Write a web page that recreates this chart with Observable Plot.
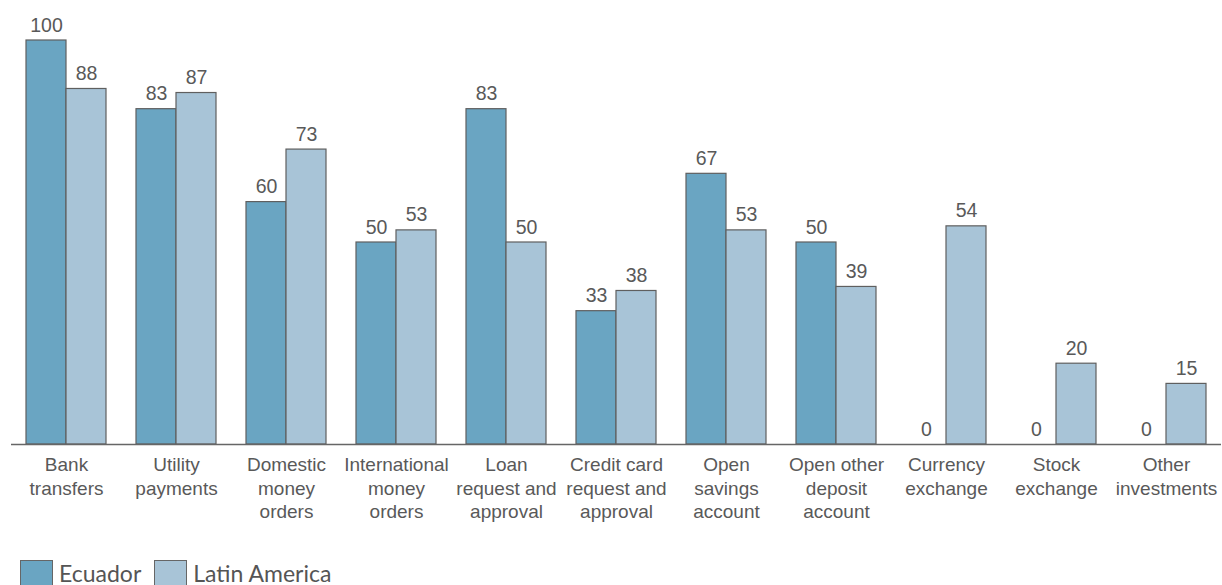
<!DOCTYPE html>
<html>
<head>
<meta charset="utf-8">
<script src="https://cdn.jsdelivr.net/npm/d3@7"></script>
<script src="https://cdn.jsdelivr.net/npm/@observablehq/plot@0.6"></script>
<style>
  body { margin: 0; background: #fff; overflow: hidden; }
  #legend { display: flex; align-items: center; margin-left: 20px; margin-top: 20px; font-family: Lato, sans-serif; font-size: 23px; color: #555; }
  .sw { width: 31px; height: 25px; border: 1px solid #666; margin-right: 6px; }
  .item { display: flex; align-items: center; margin-right: 13px; line-height: 27px; }
</style>
</head>
<body>
<div id="chart"></div>
<div id="legend"></div>
<script>
const categories = ["Bank\ntransfers", "Utility\npayments", "Domestic\nmoney\norders", "International\nmoney\norders", "Loan\nrequest and\napproval", "Credit card\nrequest and\napproval", "Open\nsavings\naccount", "Open other\ndeposit\naccount", "Currency\nexchange", "Stock\nexchange", "Other\ninvestments"];
const ecuador = [100, 83, 60, 50, 83, 33, 67, 50, 0, 0, 0];
const latinAmerica = [88, 87, 73, 53, 50, 38, 53, 39, 54, 20, 15];
const seriesNames = ["Ecuador", "Latin America"];
const colors = ["#6aa5c2", "#a8c4d7"];

const data = [];
categories.forEach((c, i) => {
  data.push({cat: c, series: seriesNames[0], value: ecuador[i]});
  data.push({cat: c, series: seriesNames[1], value: latinAmerica[i]});
});

const textColor = "#595959";
const chart = Plot.plot({
  width: 1222,
  height: 540,
  marginLeft: 10,
  marginRight: 0,
  marginTop: 40,
  marginBottom: 96,
  style: {fontFamily: "'Liberation Sans', Arial, sans-serif", fontSize: "19px", color: textColor, background: "#fff"},
  fx: {domain: categories, padding: 0, axis: null},
  x: {domain: seriesNames, paddingInner: 0, paddingOuter: 0.375, axis: null},
  y: {domain: [0, 100], axis: null},
  color: {domain: seriesNames, range: colors},
  marks: [
    Plot.barY(data, {fx: "cat", x: "series", y: "value", fill: "series", stroke: "#5f5f5f", strokeWidth: 1.2}),
    Plot.text(data, {fx: "cat", x: "series", y: "value", text: d => String(d.value), dy: -9, lineAnchor: "bottom", fill: textColor, fontSize: 19.5}),
    Plot.ruleY([0], {stroke: "#666", strokeWidth: 1.5}),
    Plot.text(categories, {fx: d => d, text: d => d, frameAnchor: "bottom", lineAnchor: "top", dy: 10.5, lineHeight: 1.22, fill: textColor, fontSize: 19})
  ]
});
document.getElementById("chart").appendChild(chart);

const legend = document.getElementById("legend");
seriesNames.forEach((s, i) => {
  const item = document.createElement("div");
  item.className = "item";
  const sw = document.createElement("div");
  sw.className = "sw";
  sw.style.background = colors[i];
  item.appendChild(sw);
  const t = document.createElement("span");
  t.textContent = s;
  item.appendChild(t);
  legend.appendChild(item);
});
</script>
</body>
</html>
